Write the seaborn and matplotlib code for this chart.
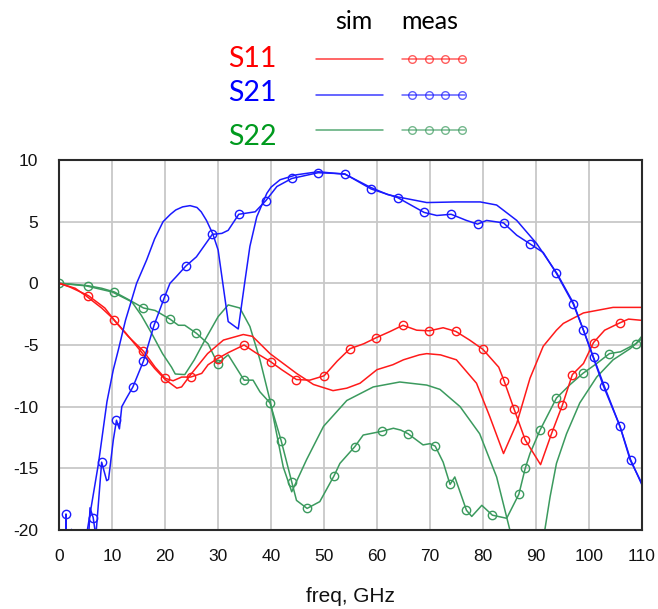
import numpy as np
import pandas as pd
import matplotlib
matplotlib.use("Agg")
import matplotlib.pyplot as plt
import seaborn as sns
from matplotlib.lines import Line2D
from matplotlib.ticker import MultipleLocator

# ---------------- data (freq in GHz, value in dB) ----------------
s11_sim_f = [0, 3, 5, 8, 10, 12.5, 15, 18, 20, 22.2, 23.1, 25, 28, 31, 34.75, 36.5, 39.8, 44.8, 48, 51.7,
             54.3, 56.8, 60, 63, 65, 68, 69.4, 72, 75, 78.8, 81.3, 83.9, 86.4, 88.9, 91.4, 93.9, 95.2, 99,
             104.6, 110]
s11_sim_db = [0, -0.4, -1.0, -2.0, -2.8, -4.0, -5.3, -6.9, -7.8, -8.5, -8.4, -7.3, -5.7, -4.6, -4.15, -4.3,
              -5.7, -7.3, -8.2, -8.7, -8.5, -8.1, -7.0, -6.6, -6.2, -5.8, -5.7, -5.8, -6.2, -8.1, -10.8,
              -13.8, -11.35, -7.7, -5.1, -3.8, -3.25, -2.4, -1.95, -1.95]

s11_meas_f = [0, 2, 5.5, 8.6, 10.4, 13, 15.9, 18.1, 20, 21.5, 23.1, 24.8, 26.9, 28.1, 29.9, 32, 34.9, 37,
              39.9, 42, 44.8, 47.3, 50, 52.5, 54.9, 57.5, 59.9, 62.5, 64.9, 67.5, 69.9, 72.5, 74.9, 77.5,
              80, 83, 84, 85.9, 88, 90.9, 93, 95, 96.9, 99, 100.9, 103, 105.9, 107.5, 110]
s11_meas_db = [0, -0.3, -1.0, -2.0, -3.0, -4.3, -5.5, -6.8, -7.7, -7.9, -7.6, -7.6, -7.3, -6.6, -6.1, -5.6,
               -5.0, -5.6, -6.35, -7.0, -7.8, -7.85, -7.5, -6.3, -5.3, -4.9, -4.4, -3.9, -3.4, -3.8, -3.85,
               -3.6, -3.9, -4.6, -5.35, -6.8, -7.9, -10.2, -12.7, -14.7, -12.15, -9.9, -7.4, -6.5, -4.8,
               -3.8, -3.2, -2.9, -3.0]
s11_meas_mk = [5.5, 10.4, 15.9, 20, 24.8, 29.9, 34.9, 39.9, 44.8, 50, 54.9, 59.9, 64.9, 69.9, 74.9, 80, 84,
               85.9, 88, 93, 95, 96.9, 100.9, 105.9]

s21_sim_f = [4.8, 5.3, 7.4, 9.0, 10.2, 11.15, 12.5, 14.6, 16.5, 18.0, 19.6, 21.0, 22.0, 23.3, 24.7, 26.0,
             26.8, 27.8, 29.0, 30.0, 31.9, 33.8, 35.0, 36.0, 37.3, 39.2, 40.0, 41.7, 44.8, 48.9, 54.0, 58.7,
             62.0, 64.0, 69.4, 75.0, 79.5, 82.6, 86.4, 90.2, 94.0, 97.1, 99.0, 100.8, 102.7, 105.9, 107.8,
             110]
s21_sim_db = [-24, -20, -14.6, -9.6, -7.0, -5.4, -3.0, 0.0, 1.9, 3.6, 5.0, 5.6, 5.95, 6.2, 6.3, 6.15, 5.8,
              5.1, 4.0, 2.7, -3.1, -3.7, 0.0, 3.0, 5.4, 7.3, 7.8, 8.4, 8.8, 9.05, 8.84, 7.8, 7.2, 7.0, 6.55,
              6.6, 6.6, 6.35, 5.1, 3.2, 0.8, -1.6, -3.8, -5.95, -8.25, -11.6, -14.3, -16.2]

s21_meas_f = [0.3, 1.2, 1.26, 1.32, 2.0, 2.3, 2.6, 4.5, 5.4, 5.8, 6.4, 6.9, 8.0, 8.95, 9.3, 10.2, 10.8,
              11.35, 11.8, 12.7, 13.9, 15.9, 17.9, 19.8, 20.9, 22.0, 23.9, 25.9, 28.9, 30.7, 31.9, 33.9,
              37.0, 39.0, 41.1, 43.9, 48.9, 53.9, 58.9, 63.9, 68.9, 71.3, 74.0, 76.9, 79.0, 80.7, 83.9,
              86.4, 88.9, 91.4, 93.9, 97.1, 99.0, 100.9, 102.9, 105.9, 107.9, 110]
s21_meas_db = [-28, -27, -18.7, -27, -21, -19.95, -21, -26, -22, -18.2, -19.0, -20.5, -14.5, -16.0, -15.9,
               -12.7, -11.1, -11.8, -10.0, -9.3, -8.4, -6.3, -3.4, -1.2, 0.0, 0.5, 1.4, 2.15, 3.97, 4.05,
               4.3, 5.6, 5.8, 6.7, 7.85, 8.5, 8.97, 8.88, 7.65, 6.95, 5.75, 5.5, 5.6, 5.1, 4.8, 5.1, 4.9,
               3.9, 3.2, 2.5, 0.8, -1.7, -3.8, -6.0, -8.3, -11.6, -14.3, -16.3]
s21_meas_mk = [1.26, 6.4, 8.0, 10.8, 13.9, 15.9, 17.9, 19.8, 23.9, 28.9, 33.9, 39.0, 43.9, 48.9, 53.9, 58.9,
               63.9, 68.9, 74.0, 79.0, 83.9, 88.9, 93.9, 97.1, 99.0, 100.9, 102.9, 105.9, 107.9]

s22_sim_f = [0, 5, 10, 13.7, 15.5, 17.5, 19.5, 21.2, 21.9, 23.7, 25.5, 27.5, 30, 31.9, 34.1, 36, 37.9, 39.8,
             42.3, 43.9, 46.7, 49.9, 54.3, 59.3, 64.3, 69.4, 71.9, 75.7, 79.4, 82.6, 85.1, 86.5, 88.5, 90.5,
             91.7, 92.7, 93.9, 95.8, 98.3, 101.5, 104.6, 107.8, 110]
s22_sim_db = [0, -0.2, -0.7, -1.5, -2.6, -4.1, -5.7, -6.8, -7.35, -7.4, -6.2, -4.6, -2.7, -1.75, -2.0, -3.5,
              -6.2, -9.5, -14.9, -16.9, -14.3, -11.6, -9.5, -8.4, -8.0, -8.25, -8.6, -10.0, -12.2, -15.7,
              -20, -24, -30, -24, -20, -17.3, -14.6, -12.2, -9.7, -7.6, -6.2, -5.3, -4.5]

s22_meas_f = [0, 2, 5.5, 8, 10.4, 13, 15.9, 18.1, 20.9, 22.5, 23.7, 25.9, 28.1, 29.9, 31.9, 34.9, 36.6, 37.9,
              39.8, 41.9, 43.9, 44.8, 46.8, 49.2, 51.9, 53, 55.8, 57.4, 60.9, 63.1, 64.5, 65.9, 68.7, 70, 71,
              72.5, 73.8, 74.7, 76.9, 77.9, 79.8, 81.8, 84.5, 86.8, 88, 88.9, 90.8, 93.9, 96.5, 98.9,
              101.5, 103.9, 106, 108.9, 110]
s22_meas_db = [0, -0.05, -0.2, -0.4, -0.7, -1.3, -2.0, -2.2, -2.9, -3.4, -3.4, -4.05, -4.9, -6.5, -5.8,
               -7.85, -7.85, -8.8, -9.7, -12.75, -16.1, -17.6, -18.25, -17.7, -15.6, -14.6, -13.25, -12.3,
               -12.0, -11.75, -11.9, -12.2, -13.1, -13.0, -13.2, -14.5, -16.3, -15.7, -18.4, -18.9, -18.0,
               -18.8, -19.05, -17.1, -15.0, -13.8, -11.9, -9.3, -8.2, -7.3, -6.5, -5.7, -5.55, -4.9, -4.3]
s22_meas_mk = [0, 5.5, 10.4, 15.9, 20.9, 25.9, 29.9, 34.9, 39.8, 41.9, 43.9, 46.8, 51.9, 55.8, 60.9, 65.9,
               71, 73.8, 76.9, 81.8, 86.8, 88, 90.8, 93.9, 98.9, 103.9, 108.9]

x_ticks = list(range(0, 111, 10))
y_ticks = list(range(-20, 11, 5))
x_label = "freq, GHz"
names = ["S11", "S21", "S22"]

# ---------------- styling ----------------
C_RED, C_BLUE, C_GREEN = "#ff1a1a", "#1a1aff", "#3b9a5e"
TXT_RED, TXT_BLUE, TXT_GREEN = "#ff0000", "#0000ff", "#009a1e"

sns.set_style("white")
plt.rcParams["font.family"] = ["Liberation Sans", "DejaVu Sans"]
plt.rcParams["axes.unicode_minus"] = False

W, H = 658, 609
fig = plt.figure(figsize=(W / 100, H / 100), dpi=100)
ax = fig.add_axes([59.3 / W, (H - 530) / H, 582.4 / W, 370 / H])

def marker_idx(freqs, marks):
    fa = np.asarray(freqs)
    return [int(np.argmin(np.abs(fa - m))) for m in marks]

series = [
    (s22_sim_f, s22_sim_db, s22_meas_f, s22_meas_db, s22_meas_mk, C_GREEN),
    (s11_sim_f, s11_sim_db, s11_meas_f, s11_meas_db, s11_meas_mk, C_RED),
    (s21_sim_f, s21_sim_db, s21_meas_f, s21_meas_db, s21_meas_mk, C_BLUE),
]
for sf, sd, mf, md, mk, col in series:
    sim_df = pd.DataFrame({"f": sf, "db": sd})
    meas_df = pd.DataFrame({"f": mf, "db": md})
    sns.lineplot(data=sim_df, x="f", y="db", ax=ax, color=col, linewidth=1.1,
                 estimator=None, sort=False, legend=False)
    sns.lineplot(data=meas_df, x="f", y="db", ax=ax, color=col, linewidth=1.1,
                 estimator=None, sort=False, legend=False,
                 marker="o", markevery=marker_idx(mf, mk), markersize=6,
                 markerfacecolor="none", markeredgecolor=col, markeredgewidth=1.0)

ax.set_xlim(0, 110)
ax.set_ylim(-20, 10)
ax.set_xticks(x_ticks)
ax.set_yticks(y_ticks)
ax.xaxis.set_minor_locator(MultipleLocator(5))
ax.yaxis.set_minor_locator(MultipleLocator(1))
ax.grid(True, which="major", color="#c8c8c8", linewidth=1.3)
ax.set_axisbelow(True)
for s in ax.spines.values():
    s.set_color("#2a2a2a")
    s.set_linewidth(1.5)
ax.tick_params(which="major", direction="out", length=12, width=1.2, color="#2a2a2a",
               labelsize=12.5, pad=3, labelcolor="#111111")
ax.tick_params(which="minor", direction="out", length=5, width=1.2, color="#2a2a2a")
ax.tick_params(axis="x", which="major", length=11)
ax.set_xlabel(x_label, fontsize=15, labelpad=16, color="#111111")
ax.set_ylabel("")

# ---------------- custom legend table ----------------
def fx(px):
    return px / W

def fy(py):
    return 1 - py / H

fig.text(fx(354), fy(29.3), "sim", ha="center", va="baseline", fontsize=18, family="Lato", color="black")
fig.text(fx(430), fy(29.3), "meas", ha="center", va="baseline", fontsize=18, family="Lato", color="black")

rows_y = [59.3, 95, 130]
base_y = [66.7, 100.7, 145]
txt_cols = [TXT_RED, TXT_BLUE, TXT_GREEN]
line_cols = [C_RED, C_BLUE, C_GREEN]
for name, ry, by, tc, lc in zip(names, rows_y, base_y, txt_cols, line_cols):
    fig.text(fx(228), fy(by), name, ha="left", va="baseline", fontsize=20.5, family="Lato", color=tc)
    fig.add_artist(Line2D([fx(316), fx(383)], [fy(ry), fy(ry)], color=lc, lw=1.1,
                          transform=fig.transFigure, alpha=0.85))
    fig.add_artist(Line2D([fx(401.7), fx(465)], [fy(ry), fy(ry)], color=lc, lw=1.1,
                          transform=fig.transFigure, alpha=0.7))
    mxs = [fx(411.7), fx(428.7), fx(445), fx(462.3)]
    fig.add_artist(Line2D(mxs, [fy(ry)] * 4, linestyle="none", marker="o", markersize=5.5,
                          markerfacecolor="none", markeredgecolor=lc, markeredgewidth=1.0,
                          transform=fig.transFigure, alpha=0.7))

fig.savefig("out.png", dpi=100)
